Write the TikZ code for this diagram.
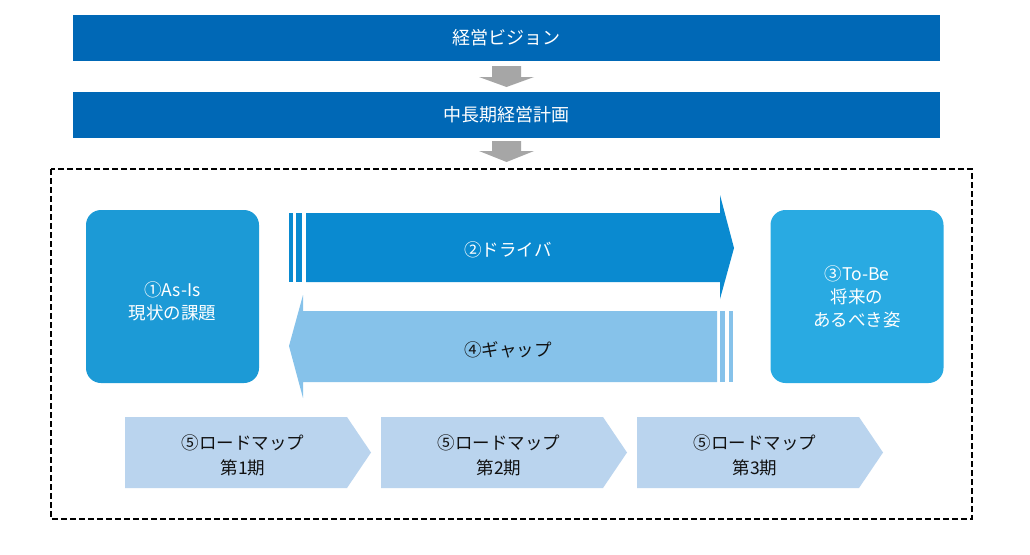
\documentclass[tikz,border=0pt]{standalone}
\usepackage{fontspec}
\setmainfont{Noto Sans CJK JP}
\definecolor{barblue}{HTML}{0068B6}
\definecolor{asisblue}{HTML}{1C9AD6}
\definecolor{tobeblue}{HTML}{29AAE2}
\definecolor{driveblue}{HTML}{0A8AD0}
\definecolor{gapblue}{HTML}{86C2EA}
\definecolor{roadblue}{HTML}{BAD4EE}
\definecolor{arrowgray}{HTML}{A6A6A6}
\definecolor{darktext}{HTML}{111111}
\begin{document}
\begin{tikzpicture}[x=1pt,y=-1pt,
  bar/.style={fill=barblue, text=white, minimum width=867pt, minimum height=46pt, inner sep=0pt, font=\fontsize{18}{20}\selectfont},
  sqbox/.style={rounded corners=15pt, minimum width=173pt, minimum height=173pt, inner sep=0pt, align=center, text=white, font=\fontsize{17.5}{23}\selectfont},
  lbl/.style={align=center, inner sep=0pt, font=\fontsize{17.5}{24}\selectfont},
  dlbl/.style={lbl, text=darktext, font=\fontsize{17.5}{25}\selectfont},
  grayarrow/.style={fill=arrowgray, draw=none},
]
\useasboundingbox[fill=white] (0,0) rectangle (1030,554);

% top bars
\node[bar] (vision) at (506.5,38) {経営ビジョン};
\node[bar] (plan) at (506.5,114.5) {中長期経営計画};

% gray block arrows
\fill[grayarrow] (492,66) -- (521,66) -- (521,77) -- (534,77) -- (506.5,87) -- (479,77) -- (492,77) -- cycle;
\fill[grayarrow] (492,141) -- (521,141) -- (521,151) -- (534,151) -- (506.5,162) -- (479,151) -- (492,151) -- cycle;

% dashed frame
\draw[line width=2.2pt, dash pattern=on 6pt off 3pt] (51,169) rectangle (972,519);

% As-Is / To-Be boxes
\node[sqbox, fill=asisblue] (asis) at (172.5,296.5) {};
\node[sqbox] (asistext) at (172.5,301) {①As-Is\\現状の課題};
\node[sqbox, fill=tobeblue] (tobe) at (857,296.5) {③To-Be\\将来の\\あるべき姿};

% drive arrow
\fill[driveblue] (306,213) -- (720,213) -- (720,195) -- (734,248) -- (720,299) -- (720,282) -- (306,282) -- cycle;
\fill[driveblue] (289,213) rectangle (293,282);
\fill[driveblue] (296,213) rectangle (302,282);
\node[lbl, text=white] (drive) at (508,250) {②ドライバ};

% gap arrow
\fill[gapblue] (717,311) -- (303,311) -- (303,295) -- (289,346) -- (303,398) -- (303,382) -- (717,382) -- cycle;
\fill[gapblue] (720,311) rectangle (725,382);
\fill[gapblue] (729,311) rectangle (733,382);
\node[dlbl] (gap) at (508,350) {④ギャップ};

% roadmap chevrons
\foreach \x/\k in {125/1,381/2,637/3}{
  \fill[roadblue] (\x,417) -- (\x+222,417) -- (\x+246,452.5) -- (\x+222,488) -- (\x,488) -- cycle;
  \node[dlbl] (road\k) at (\x+118,455) {⑤ロードマップ\\第{\k}期};
}
\end{tikzpicture}
\end{document}
